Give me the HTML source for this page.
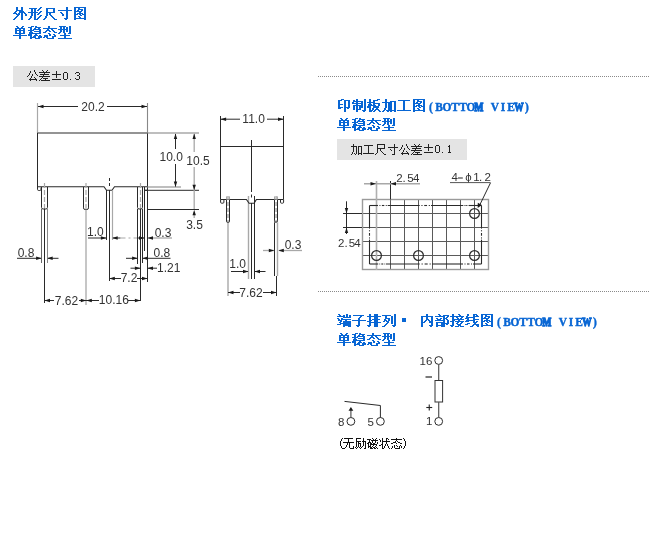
<!DOCTYPE html>
<html><head><meta charset="utf-8"><style>
html,body{margin:0;padding:0;background:#fff;}
body{width:669px;height:550px;overflow:hidden;position:relative;}
svg{position:absolute;left:0;top:0;}
</style></head><body>
<svg width="669" height="550" viewBox="0 0 669 550" style="will-change:transform">
<path d="M16 7h2v1h-2zM21 7h2v1h-2zM16 8h2v1h-2zM21 8h2v1h-2zM16 9h2v1h-2zM21 9h2v1h-2zM16 10h7v1h-7zM15 11h2v1h-2zM19 11h5v1h-5zM14 12h2v1h-2zM19 12h6v1h-6zM13 13h4v1h-4zM18 13h2v1h-2zM21 13h2v1h-2zM24 13h2v1h-2zM16 14h4v1h-4zM21 14h2v1h-2zM25 14h2v1h-2zM17 15h2v1h-2zM21 15h2v1h-2zM25 15h2v1h-2zM16 16h2v1h-2zM21 16h2v1h-2zM15 17h2v1h-2zM21 17h2v1h-2zM14 18h2v1h-2zM21 18h2v1h-2zM13 19h2v1h-2zM21 19h2v1h-2zM40 7h2v1h-2zM29 8h8v1h-8zM39 8h2v1h-2zM31 9h2v1h-2zM34 9h2v1h-2zM38 9h2v1h-2zM31 10h2v1h-2zM34 10h2v1h-2zM37 10h2v1h-2zM31 11h2v1h-2zM34 11h2v1h-2zM40 11h2v1h-2zM28 12h10v1h-10zM39 12h2v1h-2zM31 13h2v1h-2zM34 13h2v1h-2zM38 13h2v1h-2zM31 14h2v1h-2zM34 14h2v1h-2zM37 14h2v1h-2zM31 15h2v1h-2zM34 15h2v1h-2zM40 15h2v1h-2zM30 16h2v1h-2zM34 16h2v1h-2zM39 16h2v1h-2zM30 17h2v1h-2zM34 17h2v1h-2zM38 17h2v1h-2zM29 18h2v1h-2zM34 18h2v1h-2zM37 18h2v1h-2zM28 19h2v1h-2zM34 19h4v1h-4zM46 8h9v1h-9zM46 9h2v1h-2zM53 9h2v1h-2zM46 10h2v1h-2zM53 10h2v1h-2zM46 11h2v1h-2zM53 11h2v1h-2zM46 12h9v1h-9zM46 13h2v1h-2zM49 13h2v1h-2zM46 14h2v1h-2zM49 14h2v1h-2zM46 15h2v1h-2zM50 15h2v1h-2zM45 16h2v1h-2zM51 16h2v1h-2zM45 17h2v1h-2zM52 17h2v1h-2zM44 18h2v1h-2zM53 18h2v1h-2zM43 19h2v1h-2zM54 19h3v1h-3zM66 7h2v1h-2zM66 8h2v1h-2zM66 9h2v1h-2zM58 10h14v1h-14zM66 11h2v1h-2zM60 12h2v1h-2zM66 12h2v1h-2zM61 13h2v1h-2zM66 13h2v1h-2zM62 14h2v1h-2zM66 14h2v1h-2zM62 15h2v1h-2zM66 15h2v1h-2zM66 16h2v1h-2zM66 17h2v1h-2zM64 18h4v1h-4zM65 19h2v1h-2zM74 7h12v1h-12zM74 8h2v1h-2zM78 8h2v1h-2zM84 8h2v1h-2zM74 9h2v1h-2zM78 9h5v1h-5zM84 9h2v1h-2zM74 10h2v1h-2zM77 10h2v1h-2zM81 10h2v1h-2zM84 10h2v1h-2zM74 11h8v1h-8zM84 11h2v1h-2zM74 12h2v1h-2zM79 12h2v1h-2zM84 12h2v1h-2zM74 13h2v1h-2zM77 13h6v1h-6zM84 13h2v1h-2zM74 14h4v1h-4zM79 14h2v1h-2zM82 14h4v1h-4zM74 15h2v1h-2zM80 15h2v1h-2zM84 15h2v1h-2zM74 16h2v1h-2zM78 16h2v1h-2zM84 16h2v1h-2zM74 17h2v1h-2zM79 17h2v1h-2zM84 17h2v1h-2zM74 18h12v1h-12zM74 19h2v1h-2zM84 19h2v1h-2z" fill="#0866d4"/>
<path d="M16 26h2v1h-2zM22 26h2v1h-2zM17 27h2v1h-2zM21 27h2v1h-2zM15 28h10v1h-10zM15 29h2v1h-2zM19 29h2v1h-2zM23 29h2v1h-2zM15 30h10v1h-10zM15 31h2v1h-2zM19 31h2v1h-2zM23 31h2v1h-2zM15 32h2v1h-2zM19 32h2v1h-2zM23 32h2v1h-2zM15 33h10v1h-10zM19 34h2v1h-2zM13 35h14v1h-14zM19 36h2v1h-2zM19 37h2v1h-2zM19 38h2v1h-2zM31 26h3v1h-3zM35 26h2v1h-2zM28 27h4v1h-4zM35 27h6v1h-6zM30 28h2v1h-2zM34 28h2v1h-2zM38 28h2v1h-2zM30 29h2v1h-2zM33 29h8v1h-8zM28 30h6v1h-6zM39 30h2v1h-2zM30 31h2v1h-2zM34 31h7v1h-7zM29 32h4v1h-4zM39 32h2v1h-2zM29 33h12v1h-12zM28 34h4v1h-4zM35 34h2v1h-2zM28 35h4v1h-4zM34 35h4v1h-4zM39 35h2v1h-2zM30 36h2v1h-2zM33 36h3v1h-3zM38 36h4v1h-4zM30 37h6v1h-6zM38 37h4v1h-4zM30 38h2v1h-2zM35 38h5v1h-5zM48 26h2v1h-2zM48 27h2v1h-2zM43 28h14v1h-14zM47 29h2v1h-2zM51 29h2v1h-2zM46 30h4v1h-4zM52 30h2v1h-2zM45 31h2v1h-2zM49 31h2v1h-2zM53 31h2v1h-2zM43 32h3v1h-3zM54 32h3v1h-3zM48 33h2v1h-2zM49 34h2v1h-2zM53 34h2v1h-2zM44 35h4v1h-4zM49 35h2v1h-2zM54 35h2v1h-2zM44 36h4v1h-4zM52 36h4v1h-4zM43 37h2v1h-2zM46 37h2v1h-2zM52 37h2v1h-2zM47 38h7v1h-7zM59 26h7v1h-7zM69 26h2v1h-2zM60 27h2v1h-2zM63 27h2v1h-2zM66 27h2v1h-2zM69 27h2v1h-2zM60 28h2v1h-2zM63 28h2v1h-2zM66 28h2v1h-2zM69 28h2v1h-2zM58 29h10v1h-10zM69 29h2v1h-2zM60 30h2v1h-2zM63 30h2v1h-2zM66 30h2v1h-2zM69 30h2v1h-2zM60 31h2v1h-2zM63 31h2v1h-2zM66 31h2v1h-2zM69 31h2v1h-2zM59 32h2v1h-2zM63 32h2v1h-2zM69 32h2v1h-2zM58 33h2v1h-2zM64 33h2v1h-2zM68 33h3v1h-3zM64 34h2v1h-2zM60 35h10v1h-10zM64 36h2v1h-2zM64 37h2v1h-2zM58 38h14v1h-14z" fill="#0866d4"/>
<rect x="13" y="66" width="82" height="21" fill="#e4e4e4"/>
<path d="M34 70h1v1h-1zM30 71h1v1h-1zM34 71h1v1h-1zM30 72h1v1h-1zM35 72h1v1h-1zM29 73h1v1h-1zM35 73h1v1h-1zM29 74h1v1h-1zM32 74h1v1h-1zM36 74h1v1h-1zM28 75h1v1h-1zM32 75h1v1h-1zM37 75h1v1h-1zM27 76h1v1h-1zM31 76h1v1h-1zM31 77h1v1h-1zM34 77h1v1h-1zM30 78h1v1h-1zM35 78h1v1h-1zM29 79h8v1h-8zM30 80h1v1h-1zM36 80h1v1h-1zM42 70h1v1h-1zM47 70h1v1h-1zM43 71h1v1h-1zM46 71h1v1h-1zM39 72h11v1h-11zM44 73h1v1h-1zM40 74h9v1h-9zM43 75h1v1h-1zM39 76h11v1h-11zM42 77h1v1h-1zM41 78h1v1h-1zM43 78h5v1h-5zM40 79h1v1h-1zM45 79h1v1h-1zM39 80h1v1h-1zM41 80h9v1h-9z" fill="#222"/>
<path d="M56 71h1v1h-1zM56 72h1v1h-1zM56 73h1v1h-1zM52 74h9v1h-9zM56 75h1v1h-1zM56 76h1v1h-1zM56 77h1v1h-1zM52 79h9v1h-9zM64 72h3v1h-3zM63 73h1v1h-1zM67 73h1v1h-1zM63 74h1v1h-1zM67 74h1v1h-1zM63 75h1v1h-1zM67 75h1v1h-1zM63 76h1v1h-1zM67 76h1v1h-1zM63 77h1v1h-1zM67 77h1v1h-1zM63 78h1v1h-1zM67 78h1v1h-1zM64 79h3v1h-3zM70 79h1v1h-1zM76 72h3v1h-3zM75 73h1v1h-1zM79 73h1v1h-1zM79 74h1v1h-1zM77 75h2v1h-2zM79 76h1v1h-1zM79 77h1v1h-1zM75 78h1v1h-1zM79 78h1v1h-1zM76 79h3v1h-3z" fill="#222"/>
<line x1="318" y1="76.5" x2="650" y2="76.5" stroke="#8a8a8a" stroke-width="1" stroke-dasharray="1 1"/>
<line x1="318" y1="291.5" x2="650" y2="291.5" stroke="#8a8a8a" stroke-width="1" stroke-dasharray="1 1"/>
<path d="M341 99h3v1h-3zM338 100h4v1h-4zM344 100h6v1h-6zM338 101h2v1h-2zM344 101h2v1h-2zM348 101h2v1h-2zM338 102h2v1h-2zM344 102h2v1h-2zM348 102h2v1h-2zM338 103h2v1h-2zM344 103h2v1h-2zM348 103h2v1h-2zM338 104h5v1h-5zM344 104h2v1h-2zM348 104h2v1h-2zM338 105h2v1h-2zM344 105h2v1h-2zM348 105h2v1h-2zM338 106h2v1h-2zM344 106h2v1h-2zM348 106h2v1h-2zM338 107h5v1h-5zM344 107h6v1h-6zM338 108h3v1h-3zM344 108h2v1h-2zM347 108h2v1h-2zM344 109h2v1h-2zM344 110h2v1h-2zM344 111h2v1h-2zM356 99h2v1h-2zM364 99h2v1h-2zM353 100h2v1h-2zM356 100h2v1h-2zM364 100h2v1h-2zM353 101h10v1h-10zM364 101h2v1h-2zM352 102h2v1h-2zM356 102h2v1h-2zM361 102h2v1h-2zM364 102h2v1h-2zM352 103h11v1h-11zM364 103h2v1h-2zM356 104h2v1h-2zM361 104h2v1h-2zM364 104h2v1h-2zM353 105h10v1h-10zM364 105h2v1h-2zM353 106h2v1h-2zM356 106h2v1h-2zM359 106h4v1h-4zM364 106h2v1h-2zM353 107h2v1h-2zM356 107h2v1h-2zM359 107h4v1h-4zM364 107h2v1h-2zM353 108h2v1h-2zM356 108h2v1h-2zM359 108h2v1h-2zM364 108h2v1h-2zM353 109h2v1h-2zM356 109h5v1h-5zM364 109h2v1h-2zM356 110h2v1h-2zM362 110h4v1h-4zM356 111h2v1h-2zM363 111h2v1h-2zM369 99h2v1h-2zM377 99h3v1h-3zM369 100h2v1h-2zM373 100h5v1h-5zM369 101h2v1h-2zM373 101h2v1h-2zM367 102h8v1h-8zM369 103h2v1h-2zM373 103h7v1h-7zM368 104h4v1h-4zM373 104h2v1h-2zM378 104h2v1h-2zM368 105h8v1h-8zM378 105h2v1h-2zM367 106h4v1h-4zM373 106h6v1h-6zM367 107h4v1h-4zM373 107h6v1h-6zM369 108h2v1h-2zM372 108h2v1h-2zM376 108h2v1h-2zM369 109h2v1h-2zM372 109h2v1h-2zM375 109h4v1h-4zM369 110h4v1h-4zM374 110h2v1h-2zM378 110h2v1h-2zM369 111h3v1h-3zM373 111h2v1h-2zM379 111h2v1h-2zM385 99h2v1h-2zM385 100h2v1h-2zM385 101h2v1h-2zM390 101h6v1h-6zM382 102h10v1h-10zM394 102h2v1h-2zM385 103h2v1h-2zM388 103h4v1h-4zM394 103h2v1h-2zM385 104h2v1h-2zM388 104h4v1h-4zM394 104h2v1h-2zM385 105h2v1h-2zM388 105h4v1h-4zM394 105h2v1h-2zM385 106h2v1h-2zM388 106h4v1h-4zM394 106h2v1h-2zM385 107h2v1h-2zM388 107h4v1h-4zM394 107h2v1h-2zM384 108h2v1h-2zM388 108h4v1h-4zM394 108h2v1h-2zM384 109h2v1h-2zM388 109h4v1h-4zM394 109h2v1h-2zM383 110h2v1h-2zM386 110h10v1h-10zM382 111h2v1h-2zM387 111h2v1h-2zM390 111h2v1h-2zM394 111h2v1h-2zM398 100h12v1h-12zM403 101h2v1h-2zM403 102h2v1h-2zM403 103h2v1h-2zM403 104h2v1h-2zM403 105h2v1h-2zM403 106h2v1h-2zM403 107h2v1h-2zM403 108h2v1h-2zM403 109h2v1h-2zM397 110h14v1h-14zM413 99h12v1h-12zM413 100h2v1h-2zM417 100h2v1h-2zM423 100h2v1h-2zM413 101h2v1h-2zM417 101h5v1h-5zM423 101h2v1h-2zM413 102h2v1h-2zM416 102h2v1h-2zM420 102h2v1h-2zM423 102h2v1h-2zM413 103h8v1h-8zM423 103h2v1h-2zM413 104h2v1h-2zM418 104h2v1h-2zM423 104h2v1h-2zM413 105h2v1h-2zM416 105h6v1h-6zM423 105h2v1h-2zM413 106h4v1h-4zM418 106h2v1h-2zM421 106h4v1h-4zM413 107h2v1h-2zM419 107h2v1h-2zM423 107h2v1h-2zM413 108h2v1h-2zM417 108h2v1h-2zM423 108h2v1h-2zM413 109h2v1h-2zM418 109h2v1h-2zM423 109h2v1h-2zM413 110h12v1h-12zM413 111h2v1h-2zM423 111h2v1h-2z" fill="#0866d4"/>
<text transform="translate(431,111) scale(0.88,1)" font-family="Liberation Serif" font-weight="bold" font-size="13" fill="#0866d4" stroke="#0866d4" stroke-width="0.45" text-anchor="middle">(</text>
<text transform="translate(439,111) scale(0.88,1)" font-family="Liberation Serif" font-weight="bold" font-size="13" fill="#0866d4" stroke="#0866d4" stroke-width="0.45" text-anchor="middle">B</text>
<text transform="translate(447,111) scale(0.88,1)" font-family="Liberation Serif" font-weight="bold" font-size="13" fill="#0866d4" stroke="#0866d4" stroke-width="0.45" text-anchor="middle">O</text>
<text transform="translate(455,111) scale(0.88,1)" font-family="Liberation Serif" font-weight="bold" font-size="13" fill="#0866d4" stroke="#0866d4" stroke-width="0.45" text-anchor="middle">T</text>
<text transform="translate(463,111) scale(0.88,1)" font-family="Liberation Serif" font-weight="bold" font-size="13" fill="#0866d4" stroke="#0866d4" stroke-width="0.45" text-anchor="middle">T</text>
<text transform="translate(471,111) scale(0.88,1)" font-family="Liberation Serif" font-weight="bold" font-size="13" fill="#0866d4" stroke="#0866d4" stroke-width="0.45" text-anchor="middle">O</text>
<text transform="translate(479,111) scale(0.72,1)" font-family="Liberation Serif" font-weight="bold" font-size="13" fill="#0866d4" stroke="#0866d4" stroke-width="1.3" text-anchor="middle">M</text>
<text transform="translate(495,111) scale(0.88,1)" font-family="Liberation Serif" font-weight="bold" font-size="13" fill="#0866d4" stroke="#0866d4" stroke-width="0.45" text-anchor="middle">V</text>
<text transform="translate(503,111) scale(0.88,1)" font-family="Liberation Serif" font-weight="bold" font-size="13" fill="#0866d4" stroke="#0866d4" stroke-width="0.45" text-anchor="middle">I</text>
<text transform="translate(511,111) scale(0.88,1)" font-family="Liberation Serif" font-weight="bold" font-size="13" fill="#0866d4" stroke="#0866d4" stroke-width="0.45" text-anchor="middle">E</text>
<text transform="translate(519,111) scale(0.72,1)" font-family="Liberation Serif" font-weight="bold" font-size="13" fill="#0866d4" stroke="#0866d4" stroke-width="1.3" text-anchor="middle">W</text>
<text transform="translate(527,111) scale(0.88,1)" font-family="Liberation Serif" font-weight="bold" font-size="13" fill="#0866d4" stroke="#0866d4" stroke-width="0.45" text-anchor="middle">)</text>
<path d="M340 118h2v1h-2zM346 118h2v1h-2zM341 119h2v1h-2zM345 119h2v1h-2zM339 120h10v1h-10zM339 121h2v1h-2zM343 121h2v1h-2zM347 121h2v1h-2zM339 122h10v1h-10zM339 123h2v1h-2zM343 123h2v1h-2zM347 123h2v1h-2zM339 124h2v1h-2zM343 124h2v1h-2zM347 124h2v1h-2zM339 125h10v1h-10zM343 126h2v1h-2zM337 127h14v1h-14zM343 128h2v1h-2zM343 129h2v1h-2zM343 130h2v1h-2zM355 118h3v1h-3zM359 118h2v1h-2zM352 119h4v1h-4zM359 119h6v1h-6zM354 120h2v1h-2zM358 120h2v1h-2zM362 120h2v1h-2zM354 121h2v1h-2zM357 121h8v1h-8zM352 122h6v1h-6zM363 122h2v1h-2zM354 123h2v1h-2zM358 123h7v1h-7zM353 124h4v1h-4zM363 124h2v1h-2zM353 125h12v1h-12zM352 126h4v1h-4zM359 126h2v1h-2zM352 127h4v1h-4zM358 127h4v1h-4zM363 127h2v1h-2zM354 128h2v1h-2zM357 128h3v1h-3zM362 128h4v1h-4zM354 129h6v1h-6zM362 129h4v1h-4zM354 130h2v1h-2zM359 130h5v1h-5zM372 118h2v1h-2zM372 119h2v1h-2zM367 120h14v1h-14zM371 121h2v1h-2zM375 121h2v1h-2zM370 122h4v1h-4zM376 122h2v1h-2zM369 123h2v1h-2zM373 123h2v1h-2zM377 123h2v1h-2zM367 124h3v1h-3zM378 124h3v1h-3zM372 125h2v1h-2zM373 126h2v1h-2zM377 126h2v1h-2zM368 127h4v1h-4zM373 127h2v1h-2zM378 127h2v1h-2zM368 128h4v1h-4zM376 128h4v1h-4zM367 129h2v1h-2zM370 129h2v1h-2zM376 129h2v1h-2zM371 130h7v1h-7zM383 118h7v1h-7zM393 118h2v1h-2zM384 119h2v1h-2zM387 119h2v1h-2zM390 119h2v1h-2zM393 119h2v1h-2zM384 120h2v1h-2zM387 120h2v1h-2zM390 120h2v1h-2zM393 120h2v1h-2zM382 121h10v1h-10zM393 121h2v1h-2zM384 122h2v1h-2zM387 122h2v1h-2zM390 122h2v1h-2zM393 122h2v1h-2zM384 123h2v1h-2zM387 123h2v1h-2zM390 123h2v1h-2zM393 123h2v1h-2zM383 124h2v1h-2zM387 124h2v1h-2zM393 124h2v1h-2zM382 125h2v1h-2zM388 125h2v1h-2zM392 125h3v1h-3zM388 126h2v1h-2zM384 127h10v1h-10zM388 128h2v1h-2zM388 129h2v1h-2zM382 130h14v1h-14z" fill="#0866d4"/>
<rect x="337" y="139" width="130" height="21" fill="#e4e4e4"/>
<path d="M353 144h1v1h-1zM353 145h1v1h-1zM351 146h6v1h-6zM358 146h4v1h-4zM353 147h1v1h-1zM356 147h1v1h-1zM358 147h1v1h-1zM361 147h1v1h-1zM353 148h1v1h-1zM356 148h1v1h-1zM358 148h1v1h-1zM361 148h1v1h-1zM353 149h1v1h-1zM356 149h1v1h-1zM358 149h1v1h-1zM361 149h1v1h-1zM353 150h1v1h-1zM356 150h1v1h-1zM358 150h1v1h-1zM361 150h1v1h-1zM353 151h1v1h-1zM356 151h1v1h-1zM358 151h1v1h-1zM361 151h1v1h-1zM352 152h1v1h-1zM356 152h1v1h-1zM358 152h1v1h-1zM361 152h1v1h-1zM352 153h1v1h-1zM354 153h1v1h-1zM356 153h1v1h-1zM358 153h4v1h-4zM351 154h1v1h-1zM355 154h1v1h-1zM358 154h1v1h-1zM361 154h1v1h-1zM364 145h9v1h-9zM368 146h1v1h-1zM368 147h1v1h-1zM368 148h1v1h-1zM368 149h1v1h-1zM368 150h1v1h-1zM368 151h1v1h-1zM368 152h1v1h-1zM363 153h11v1h-11zM377 144h8v1h-8zM377 145h1v1h-1zM384 145h1v1h-1zM377 146h1v1h-1zM384 146h1v1h-1zM377 147h1v1h-1zM384 147h1v1h-1zM377 148h8v1h-8zM377 149h1v1h-1zM380 149h1v1h-1zM377 150h1v1h-1zM380 150h1v1h-1zM377 151h1v1h-1zM381 151h1v1h-1zM377 152h1v1h-1zM382 152h1v1h-1zM376 153h1v1h-1zM383 153h1v1h-1zM375 154h1v1h-1zM384 154h2v1h-2zM394 144h1v1h-1zM394 145h1v1h-1zM394 146h1v1h-1zM388 147h10v1h-10zM394 148h1v1h-1zM390 149h1v1h-1zM394 149h1v1h-1zM391 150h1v1h-1zM394 150h1v1h-1zM394 151h1v1h-1zM394 152h1v1h-1zM394 153h1v1h-1zM392 154h3v1h-3zM406 144h1v1h-1zM402 145h1v1h-1zM406 145h1v1h-1zM402 146h1v1h-1zM407 146h1v1h-1zM401 147h1v1h-1zM407 147h1v1h-1zM401 148h1v1h-1zM404 148h1v1h-1zM408 148h1v1h-1zM400 149h1v1h-1zM404 149h1v1h-1zM409 149h1v1h-1zM399 150h1v1h-1zM403 150h1v1h-1zM403 151h1v1h-1zM406 151h1v1h-1zM402 152h1v1h-1zM407 152h1v1h-1zM401 153h8v1h-8zM402 154h1v1h-1zM408 154h1v1h-1zM414 144h1v1h-1zM419 144h1v1h-1zM415 145h1v1h-1zM418 145h1v1h-1zM411 146h11v1h-11zM416 147h1v1h-1zM412 148h9v1h-9zM415 149h1v1h-1zM411 150h11v1h-11zM414 151h1v1h-1zM413 152h1v1h-1zM415 152h5v1h-5zM412 153h1v1h-1zM417 153h1v1h-1zM411 154h1v1h-1zM413 154h9v1h-9z" fill="#222"/>
<path d="M428 144h1v1h-1zM428 145h1v1h-1zM428 146h1v1h-1zM424 147h9v1h-9zM428 148h1v1h-1zM428 149h1v1h-1zM428 150h1v1h-1zM424 152h9v1h-9zM436 145h3v1h-3zM435 146h1v1h-1zM439 146h1v1h-1zM435 147h1v1h-1zM439 147h1v1h-1zM435 148h1v1h-1zM439 148h1v1h-1zM435 149h1v1h-1zM439 149h1v1h-1zM435 150h1v1h-1zM439 150h1v1h-1zM435 151h1v1h-1zM439 151h1v1h-1zM436 152h3v1h-3zM442 152h1v1h-1zM449 145h1v1h-1zM448 146h2v1h-2zM449 147h1v1h-1zM449 148h1v1h-1zM449 149h1v1h-1zM449 150h1v1h-1zM449 151h1v1h-1zM448 152h3v1h-3z" fill="#222"/>
<path d="M338 314h2v1h-2zM346 314h2v1h-2zM339 315h2v1h-2zM343 315h2v1h-2zM346 315h2v1h-2zM349 315h2v1h-2zM337 316h8v1h-8zM346 316h2v1h-2zM349 316h2v1h-2zM343 317h8v1h-8zM337 318h2v1h-2zM341 318h2v1h-2zM338 319h2v1h-2zM341 319h10v1h-10zM338 320h4v1h-4zM345 320h2v1h-2zM340 321h2v1h-2zM343 321h8v1h-8zM339 322h2v1h-2zM343 322h8v1h-8zM340 323h11v1h-11zM337 324h4v1h-4zM343 324h8v1h-8zM343 325h8v1h-8zM343 326h2v1h-2zM348 326h3v1h-3zM353 315h11v1h-11zM360 316h2v1h-2zM359 317h2v1h-2zM358 318h2v1h-2zM358 319h2v1h-2zM352 320h14v1h-14zM358 321h2v1h-2zM358 322h2v1h-2zM358 323h2v1h-2zM358 324h2v1h-2zM356 325h4v1h-4zM357 326h2v1h-2zM369 314h2v1h-2zM374 314h4v1h-4zM369 315h2v1h-2zM374 315h4v1h-4zM367 316h14v1h-14zM369 317h2v1h-2zM374 317h4v1h-4zM369 318h2v1h-2zM374 318h4v1h-4zM369 319h2v1h-2zM372 319h8v1h-8zM369 320h3v1h-3zM374 320h4v1h-4zM367 321h4v1h-4zM374 321h4v1h-4zM369 322h12v1h-12zM369 323h2v1h-2zM374 323h4v1h-4zM369 324h2v1h-2zM374 324h4v1h-4zM367 325h4v1h-4zM374 325h4v1h-4zM368 326h2v1h-2zM374 326h4v1h-4zM394 314h2v1h-2zM382 315h9v1h-9zM394 315h2v1h-2zM385 316h2v1h-2zM391 316h2v1h-2zM394 316h2v1h-2zM385 317h2v1h-2zM391 317h2v1h-2zM394 317h2v1h-2zM385 318h5v1h-5zM391 318h2v1h-2zM394 318h2v1h-2zM384 319h2v1h-2zM388 319h2v1h-2zM391 319h2v1h-2zM394 319h2v1h-2zM384 320h3v1h-3zM388 320h2v1h-2zM391 320h2v1h-2zM394 320h2v1h-2zM383 321h2v1h-2zM386 321h3v1h-3zM391 321h2v1h-2zM394 321h2v1h-2zM387 322h2v1h-2zM391 322h2v1h-2zM394 322h2v1h-2zM386 323h2v1h-2zM391 323h2v1h-2zM394 323h2v1h-2zM385 324h2v1h-2zM394 324h2v1h-2zM384 325h2v1h-2zM392 325h4v1h-4zM382 326h3v1h-3zM393 326h2v1h-2zM402 318h4v1h-4zM402 319h4v1h-4zM402 320h4v1h-4zM402 321h4v1h-4z" fill="#0866d4"/>
<path d="M426 314h2v1h-2zM426 315h2v1h-2zM421 316h12v1h-12zM421 317h2v1h-2zM426 317h2v1h-2zM431 317h2v1h-2zM421 318h2v1h-2zM426 318h2v1h-2zM431 318h2v1h-2zM421 319h2v1h-2zM426 319h3v1h-3zM431 319h2v1h-2zM421 320h2v1h-2zM425 320h2v1h-2zM428 320h2v1h-2zM431 320h2v1h-2zM421 321h2v1h-2zM424 321h2v1h-2zM429 321h4v1h-4zM421 322h4v1h-4zM429 322h4v1h-4zM421 323h2v1h-2zM431 323h2v1h-2zM421 324h2v1h-2zM431 324h2v1h-2zM421 325h2v1h-2zM429 325h4v1h-4zM421 326h2v1h-2zM430 326h2v1h-2zM438 314h2v1h-2zM439 315h2v1h-2zM443 315h6v1h-6zM435 316h10v1h-10zM447 316h2v1h-2zM443 317h2v1h-2zM446 317h2v1h-2zM436 318h2v1h-2zM440 318h2v1h-2zM443 318h4v1h-4zM437 319h4v1h-4zM443 319h2v1h-2zM446 319h2v1h-2zM435 320h10v1h-10zM447 320h2v1h-2zM443 321h2v1h-2zM447 321h2v1h-2zM436 322h9v1h-9zM447 322h2v1h-2zM436 323h2v1h-2zM441 323h8v1h-8zM436 324h2v1h-2zM441 324h4v1h-4zM446 324h2v1h-2zM436 325h9v1h-9zM436 326h2v1h-2zM441 326h4v1h-4zM452 314h2v1h-2zM458 314h2v1h-2zM452 315h2v1h-2zM459 315h2v1h-2zM450 316h14v1h-14zM452 317h2v1h-2zM456 317h2v1h-2zM461 317h2v1h-2zM452 318h2v1h-2zM457 318h2v1h-2zM460 318h2v1h-2zM452 319h12v1h-12zM452 320h3v1h-3zM458 320h2v1h-2zM450 321h4v1h-4zM455 321h9v1h-9zM452 322h2v1h-2zM457 322h2v1h-2zM461 322h2v1h-2zM452 323h2v1h-2zM456 323h2v1h-2zM460 323h2v1h-2zM452 324h2v1h-2zM457 324h4v1h-4zM450 325h4v1h-4zM458 325h3v1h-3zM451 326h2v1h-2zM455 326h4v1h-4zM460 326h4v1h-4zM467 314h2v1h-2zM473 314h4v1h-4zM467 315h2v1h-2zM473 315h2v1h-2zM476 315h2v1h-2zM466 316h2v1h-2zM473 316h6v1h-6zM466 317h9v1h-9zM465 318h4v1h-4zM473 318h2v1h-2zM467 319h2v1h-2zM473 319h6v1h-6zM466 320h9v1h-9zM465 321h4v1h-4zM473 321h2v1h-2zM476 321h2v1h-2zM473 322h4v1h-4zM467 323h3v1h-3zM474 323h2v1h-2zM465 324h3v1h-3zM473 324h6v1h-6zM472 325h2v1h-2zM476 325h3v1h-3zM470 326h3v1h-3zM477 326h2v1h-2zM481 314h12v1h-12zM481 315h2v1h-2zM485 315h2v1h-2zM491 315h2v1h-2zM481 316h2v1h-2zM485 316h5v1h-5zM491 316h2v1h-2zM481 317h2v1h-2zM484 317h2v1h-2zM488 317h2v1h-2zM491 317h2v1h-2zM481 318h8v1h-8zM491 318h2v1h-2zM481 319h2v1h-2zM486 319h2v1h-2zM491 319h2v1h-2zM481 320h2v1h-2zM484 320h6v1h-6zM491 320h2v1h-2zM481 321h4v1h-4zM486 321h2v1h-2zM489 321h4v1h-4zM481 322h2v1h-2zM487 322h2v1h-2zM491 322h2v1h-2zM481 323h2v1h-2zM485 323h2v1h-2zM491 323h2v1h-2zM481 324h2v1h-2zM486 324h2v1h-2zM491 324h2v1h-2zM481 325h12v1h-12zM481 326h2v1h-2zM491 326h2v1h-2z" fill="#0866d4"/>
<text transform="translate(499,326) scale(0.88,1)" font-family="Liberation Serif" font-weight="bold" font-size="13" fill="#0866d4" stroke="#0866d4" stroke-width="0.45" text-anchor="middle">(</text>
<text transform="translate(507,326) scale(0.88,1)" font-family="Liberation Serif" font-weight="bold" font-size="13" fill="#0866d4" stroke="#0866d4" stroke-width="0.45" text-anchor="middle">B</text>
<text transform="translate(515,326) scale(0.88,1)" font-family="Liberation Serif" font-weight="bold" font-size="13" fill="#0866d4" stroke="#0866d4" stroke-width="0.45" text-anchor="middle">O</text>
<text transform="translate(523,326) scale(0.88,1)" font-family="Liberation Serif" font-weight="bold" font-size="13" fill="#0866d4" stroke="#0866d4" stroke-width="0.45" text-anchor="middle">T</text>
<text transform="translate(531,326) scale(0.88,1)" font-family="Liberation Serif" font-weight="bold" font-size="13" fill="#0866d4" stroke="#0866d4" stroke-width="0.45" text-anchor="middle">T</text>
<text transform="translate(539,326) scale(0.88,1)" font-family="Liberation Serif" font-weight="bold" font-size="13" fill="#0866d4" stroke="#0866d4" stroke-width="0.45" text-anchor="middle">O</text>
<text transform="translate(547,326) scale(0.72,1)" font-family="Liberation Serif" font-weight="bold" font-size="13" fill="#0866d4" stroke="#0866d4" stroke-width="1.3" text-anchor="middle">M</text>
<text transform="translate(563,326) scale(0.88,1)" font-family="Liberation Serif" font-weight="bold" font-size="13" fill="#0866d4" stroke="#0866d4" stroke-width="0.45" text-anchor="middle">V</text>
<text transform="translate(571,326) scale(0.88,1)" font-family="Liberation Serif" font-weight="bold" font-size="13" fill="#0866d4" stroke="#0866d4" stroke-width="0.45" text-anchor="middle">I</text>
<text transform="translate(579,326) scale(0.88,1)" font-family="Liberation Serif" font-weight="bold" font-size="13" fill="#0866d4" stroke="#0866d4" stroke-width="0.45" text-anchor="middle">E</text>
<text transform="translate(587,326) scale(0.72,1)" font-family="Liberation Serif" font-weight="bold" font-size="13" fill="#0866d4" stroke="#0866d4" stroke-width="1.3" text-anchor="middle">W</text>
<text transform="translate(595,326) scale(0.88,1)" font-family="Liberation Serif" font-weight="bold" font-size="13" fill="#0866d4" stroke="#0866d4" stroke-width="0.45" text-anchor="middle">)</text>
<path d="M340 333h2v1h-2zM346 333h2v1h-2zM341 334h2v1h-2zM345 334h2v1h-2zM339 335h10v1h-10zM339 336h2v1h-2zM343 336h2v1h-2zM347 336h2v1h-2zM339 337h10v1h-10zM339 338h2v1h-2zM343 338h2v1h-2zM347 338h2v1h-2zM339 339h2v1h-2zM343 339h2v1h-2zM347 339h2v1h-2zM339 340h10v1h-10zM343 341h2v1h-2zM337 342h14v1h-14zM343 343h2v1h-2zM343 344h2v1h-2zM343 345h2v1h-2zM355 333h3v1h-3zM359 333h2v1h-2zM352 334h4v1h-4zM359 334h6v1h-6zM354 335h2v1h-2zM358 335h2v1h-2zM362 335h2v1h-2zM354 336h2v1h-2zM357 336h8v1h-8zM352 337h6v1h-6zM363 337h2v1h-2zM354 338h2v1h-2zM358 338h7v1h-7zM353 339h4v1h-4zM363 339h2v1h-2zM353 340h12v1h-12zM352 341h4v1h-4zM359 341h2v1h-2zM352 342h4v1h-4zM358 342h4v1h-4zM363 342h2v1h-2zM354 343h2v1h-2zM357 343h3v1h-3zM362 343h4v1h-4zM354 344h6v1h-6zM362 344h4v1h-4zM354 345h2v1h-2zM359 345h5v1h-5zM372 333h2v1h-2zM372 334h2v1h-2zM367 335h14v1h-14zM371 336h2v1h-2zM375 336h2v1h-2zM370 337h4v1h-4zM376 337h2v1h-2zM369 338h2v1h-2zM373 338h2v1h-2zM377 338h2v1h-2zM367 339h3v1h-3zM378 339h3v1h-3zM372 340h2v1h-2zM373 341h2v1h-2zM377 341h2v1h-2zM368 342h4v1h-4zM373 342h2v1h-2zM378 342h2v1h-2zM368 343h4v1h-4zM376 343h4v1h-4zM367 344h2v1h-2zM370 344h2v1h-2zM376 344h2v1h-2zM371 345h7v1h-7zM383 333h7v1h-7zM393 333h2v1h-2zM384 334h2v1h-2zM387 334h2v1h-2zM390 334h2v1h-2zM393 334h2v1h-2zM384 335h2v1h-2zM387 335h2v1h-2zM390 335h2v1h-2zM393 335h2v1h-2zM382 336h10v1h-10zM393 336h2v1h-2zM384 337h2v1h-2zM387 337h2v1h-2zM390 337h2v1h-2zM393 337h2v1h-2zM384 338h2v1h-2zM387 338h2v1h-2zM390 338h2v1h-2zM393 338h2v1h-2zM383 339h2v1h-2zM387 339h2v1h-2zM393 339h2v1h-2zM382 340h2v1h-2zM388 340h2v1h-2zM392 340h3v1h-3zM388 341h2v1h-2zM384 342h10v1h-10zM388 343h2v1h-2zM388 344h2v1h-2zM382 345h14v1h-14z" fill="#0866d4"/>
<line x1="37.5" y1="103" x2="37.5" y2="133" stroke="#a8a8a8" stroke-width="1.2" />
<line x1="147.5" y1="103" x2="147.5" y2="133" stroke="#888" stroke-width="1.1" />
<line x1="147.5" y1="133" x2="147.5" y2="282" stroke="#2a2a2a" stroke-width="1" />
<line x1="37.5" y1="133" x2="37.5" y2="187" stroke="#2a2a2a" stroke-width="1" />
<line x1="37.5" y1="133" x2="147.5" y2="133" stroke="#2a2a2a" stroke-width="1.1" />
<line x1="147.5" y1="133" x2="199" y2="133" stroke="#a8a8a8" stroke-width="1.6" />
<path d="M37.5,186.8 H104 L106.5,190.3 H112 L114.5,186.8 H147.5" stroke="#2a2a2a" stroke-width="1.1" fill="none" />
<path d="M37.5,187 V189.3 Q37.5,190.5 38.7,190.5 H39.8 Q41,190.5 41,189.3 V187.5" stroke="#2a2a2a" stroke-width="1" fill="none" />
<path d="M144.5,187 V190.3 H147.5" stroke="#2a2a2a" stroke-width="1" fill="none" />
<line x1="38" y1="106.5" x2="78" y2="106.5" stroke="#2a2a2a" stroke-width="1" />
<line x1="107" y1="106.5" x2="147" y2="106.5" stroke="#2a2a2a" stroke-width="1" />
<text x="93" y="111" font-family="Liberation Sans" font-size="12" fill="#333333" text-anchor="middle" >20.2</text>
<line x1="44.5" y1="183" x2="44.5" y2="209" stroke="#a8a8a8" stroke-width="1.2" stroke-dasharray="5 2"/>
<path d="M41.5,187 V207.4 Q41.5,209 43.1,209 H45.9 Q47.5,209 47.5,207.4 V187" stroke="#2a2a2a" stroke-width="1" fill="none" />
<line x1="41.5" y1="209" x2="41.5" y2="263" stroke="#666" stroke-width="1" />
<line x1="47.5" y1="209" x2="47.5" y2="263" stroke="#888" stroke-width="1" />
<line x1="44.5" y1="209" x2="44.5" y2="303" stroke="#2a2a2a" stroke-width="1" />
<line x1="86" y1="183" x2="86" y2="209" stroke="#a8a8a8" stroke-width="1.2" stroke-dasharray="5 2"/>
<path d="M83.5,187 V207.9 Q83.5,209.5 85.1,209.5 H86.9 Q88.5,209.5 88.5,207.9 V187" stroke="#2a2a2a" stroke-width="1" fill="none" />
<line x1="86" y1="209.5" x2="86" y2="305" stroke="#a8a8a8" stroke-width="1.3" />
<line x1="109.5" y1="178" x2="109.5" y2="187" stroke="#2a2a2a" stroke-width="1" stroke-dasharray="3 2"/>
<line x1="106.5" y1="190" x2="106.5" y2="240" stroke="#2a2a2a" stroke-width="1" />
<line x1="109.5" y1="190" x2="109.5" y2="281" stroke="#2a2a2a" stroke-width="1" />
<line x1="112.5" y1="190" x2="112.5" y2="240" stroke="#a8a8a8" stroke-width="1.2" />
<line x1="140.5" y1="183" x2="140.5" y2="209" stroke="#a8a8a8" stroke-width="1.2" stroke-dasharray="5 2"/>
<path d="M137.5,187 V207.4 Q137.5,209 139.1,209 H140.9 Q142.5,209 142.5,207.4 V187" stroke="#2a2a2a" stroke-width="1" fill="none" />
<line x1="137.5" y1="209" x2="137.5" y2="264" stroke="#2a2a2a" stroke-width="1" />
<line x1="140.5" y1="209" x2="140.5" y2="301" stroke="#2a2a2a" stroke-width="1" />
<line x1="142.5" y1="209" x2="142.5" y2="263" stroke="#2a2a2a" stroke-width="1" />
<line x1="144.5" y1="190" x2="144.5" y2="251" stroke="#2a2a2a" stroke-width="1" />
<line x1="147.5" y1="187" x2="181" y2="187" stroke="#a8a8a8" stroke-width="1.6" />
<line x1="144.5" y1="190.3" x2="199" y2="190.3" stroke="#2a2a2a" stroke-width="1" />
<line x1="147.5" y1="209.5" x2="199" y2="209.5" stroke="#2a2a2a" stroke-width="1" />
<line x1="175.5" y1="134" x2="175.5" y2="149" stroke="#2a2a2a" stroke-width="1" />
<line x1="175.5" y1="164" x2="175.5" y2="186.5" stroke="#2a2a2a" stroke-width="1" />
<text x="171.2" y="160.5" font-family="Liberation Sans" font-size="12" fill="#333333" text-anchor="middle" >10.0</text>
<line x1="194.2" y1="134" x2="194.2" y2="152" stroke="#a8a8a8" stroke-width="1.3" />
<line x1="194.2" y1="167" x2="194.2" y2="209" stroke="#a8a8a8" stroke-width="1.3" />
<line x1="194.2" y1="212" x2="194.2" y2="218" stroke="#a8a8a8" stroke-width="1.3" />
<text x="198" y="164.8" font-family="Liberation Sans" font-size="12" fill="#333333" text-anchor="middle" >10.5</text>
<text x="194.5" y="228.6" font-family="Liberation Sans" font-size="12" fill="#333333" text-anchor="middle" >3.5</text>
<line x1="17" y1="258.3" x2="41" y2="258.3" stroke="#2a2a2a" stroke-width="1" />
<line x1="48" y1="258.3" x2="58.5" y2="258.3" stroke="#2a2a2a" stroke-width="1" />
<text x="26" y="256.8" font-family="Liberation Sans" font-size="12" fill="#333333" text-anchor="middle" >0.8</text>
<line x1="88" y1="238" x2="106" y2="238" stroke="#2a2a2a" stroke-width="1" />
<line x1="113" y1="238" x2="120.5" y2="238" stroke="#2a2a2a" stroke-width="1" />
<line x1="120.5" y1="238" x2="137" y2="238" stroke="#a8a8a8" stroke-width="1.2" stroke-dasharray="5 3 2 3"/>
<line x1="137" y1="238" x2="144" y2="238" stroke="#2a2a2a" stroke-width="1" />
<line x1="148" y1="238" x2="172" y2="238" stroke="#a8a8a8" stroke-width="1.3" />
<text x="95.3" y="235.6" font-family="Liberation Sans" font-size="12" fill="#333333" text-anchor="middle" >1.0</text>
<text x="163" y="236.6" font-family="Liberation Sans" font-size="12" fill="#333333" text-anchor="middle" >0.3</text>
<line x1="126" y1="258.3" x2="137" y2="258.3" stroke="#2a2a2a" stroke-width="1" />
<line x1="143" y1="258.3" x2="170.5" y2="258.3" stroke="#2a2a2a" stroke-width="1" />
<text x="161.8" y="257.3" font-family="Liberation Sans" font-size="12" fill="#333333" text-anchor="middle" >0.8</text>
<line x1="130.5" y1="268.2" x2="140" y2="268.2" stroke="#2a2a2a" stroke-width="1" />
<line x1="148" y1="268.2" x2="157" y2="268.2" stroke="#2a2a2a" stroke-width="1" />
<text x="168.8" y="271.8" font-family="Liberation Sans" font-size="12" fill="#333333" text-anchor="middle" >1.21</text>
<line x1="110" y1="278.5" x2="121" y2="278.5" stroke="#2a2a2a" stroke-width="1" />
<line x1="137" y1="278.5" x2="147" y2="278.5" stroke="#2a2a2a" stroke-width="1" />
<text x="129" y="282.4" font-family="Liberation Sans" font-size="12" fill="#333333" text-anchor="middle" >7.2</text>
<line x1="45" y1="300.5" x2="54" y2="300.5" stroke="#2a2a2a" stroke-width="1" />
<line x1="79" y1="300.5" x2="99" y2="300.5" stroke="#2a2a2a" stroke-width="1" />
<line x1="128" y1="300.5" x2="140" y2="300.5" stroke="#2a2a2a" stroke-width="1" />
<text x="66.4" y="304.6" font-family="Liberation Sans" font-size="12" fill="#333333" text-anchor="middle" >7.62</text>
<text x="113.8" y="304.3" font-family="Liberation Sans" font-size="12" fill="#333333" text-anchor="middle" >10.16</text>
<line x1="220.5" y1="116" x2="220.5" y2="199.5" stroke="#2a2a2a" stroke-width="1" />
<line x1="283.5" y1="116" x2="283.5" y2="199.5" stroke="#2a2a2a" stroke-width="1" />
<line x1="221" y1="119.2" x2="240" y2="119.2" stroke="#2a2a2a" stroke-width="1" />
<line x1="267" y1="119.2" x2="283" y2="119.2" stroke="#2a2a2a" stroke-width="1" />
<text x="253.6" y="122.8" font-family="Liberation Sans" font-size="12" fill="#333333" text-anchor="middle" >11.0</text>
<line x1="220.5" y1="146.5" x2="283.5" y2="146.5" stroke="#2a2a2a" stroke-width="1.1" />
<line x1="251.5" y1="140" x2="251.5" y2="192" stroke="#2a2a2a" stroke-width="1" />
<line x1="251.5" y1="194.5" x2="251.5" y2="197.5" stroke="#2a2a2a" stroke-width="1" />
<line x1="248.5" y1="196" x2="248.5" y2="279" stroke="#a8a8a8" stroke-width="1.4" />
<line x1="254.5" y1="196" x2="254.5" y2="279" stroke="#2a2a2a" stroke-width="1" />
<line x1="251.5" y1="203" x2="251.5" y2="279" stroke="#2a2a2a" stroke-width="1" />
<path d="M220.6,199.5 H246.4 L249.1,203.2 H254.1 L256.4,199.5 H283.5" stroke="#2a2a2a" stroke-width="1.1" fill="none" />
<path d="M220.6,199.5 V202.2 Q220.6,203.2 221.6,203.2 H222.9 Q223.9,203.2 223.9,202.2 V199.5" stroke="#2a2a2a" stroke-width="1" fill="none" />
<path d="M280.5,199.5 V202.2 Q280.5,203.2 281.5,203.2 H282.6 Q283.6,203.2 283.6,202.2 V199.5" stroke="#2a2a2a" stroke-width="1" fill="none" />
<line x1="228" y1="196" x2="228" y2="222" stroke="#a8a8a8" stroke-width="1.4" stroke-dasharray="4 2"/>
<path d="M226.5,199.5 V221.1 Q226.5,222.6 228.0,222.6 H228.0 Q229.5,222.6 229.5,221.1 V199.5" stroke="#2a2a2a" stroke-width="1" fill="none" />
<line x1="226.5" y1="196.4" x2="226.5" y2="199.5" stroke="#a8a8a8" stroke-width="1" />
<line x1="229.5" y1="196.4" x2="229.5" y2="199.5" stroke="#a8a8a8" stroke-width="1" />
<line x1="228" y1="222.6" x2="228" y2="296" stroke="#a8a8a8" stroke-width="1.4" />
<line x1="276.1" y1="196" x2="276.1" y2="222" stroke="#a8a8a8" stroke-width="1.4" stroke-dasharray="4 2"/>
<path d="M274.5,199.5 V220.8 Q274.5,222.3 276.0,222.3 H276.0 Q277.5,222.3 277.5,220.8 V199.5" stroke="#2a2a2a" stroke-width="1" fill="none" />
<line x1="274.5" y1="196.4" x2="274.5" y2="199.5" stroke="#a8a8a8" stroke-width="1" />
<line x1="277.5" y1="196.4" x2="277.5" y2="199.5" stroke="#a8a8a8" stroke-width="1" />
<line x1="274.5" y1="222.3" x2="274.5" y2="276" stroke="#2a2a2a" stroke-width="1" />
<line x1="277.5" y1="222.3" x2="277.5" y2="276" stroke="#a8a8a8" stroke-width="1.4" />
<line x1="276.5" y1="276" x2="276.5" y2="296" stroke="#2a2a2a" stroke-width="1" />
<line x1="263" y1="250.5" x2="274" y2="250.5" stroke="#a8a8a8" stroke-width="1.3" />
<line x1="279" y1="250.5" x2="302" y2="250.5" stroke="#a8a8a8" stroke-width="1.3" />
<text x="293" y="249.2" font-family="Liberation Sans" font-size="12" fill="#333333" text-anchor="middle" >0.3</text>
<line x1="231" y1="271.5" x2="248" y2="271.5" stroke="#2a2a2a" stroke-width="1" />
<line x1="255" y1="271.5" x2="265.5" y2="271.5" stroke="#2a2a2a" stroke-width="1" />
<text x="237.6" y="268.2" font-family="Liberation Sans" font-size="12" fill="#333333" text-anchor="middle" >1.0</text>
<line x1="228" y1="292.5" x2="240" y2="292.5" stroke="#2a2a2a" stroke-width="1" />
<line x1="263" y1="292.5" x2="276" y2="292.5" stroke="#2a2a2a" stroke-width="1" />
<text x="251" y="296.5" font-family="Liberation Sans" font-size="12" fill="#333333" text-anchor="middle" >7.62</text>
<line x1="376.5" y1="199.5" x2="376.5" y2="269.5" stroke="#5a5a5a" stroke-width="1" />
<line x1="390.5" y1="199.5" x2="390.5" y2="269.5" stroke="#5a5a5a" stroke-width="1" />
<line x1="404.5" y1="199.5" x2="404.5" y2="269.5" stroke="#5a5a5a" stroke-width="1" />
<line x1="418.5" y1="199.5" x2="418.5" y2="269.5" stroke="#5a5a5a" stroke-width="1" />
<line x1="432.5" y1="199.5" x2="432.5" y2="269.5" stroke="#5a5a5a" stroke-width="1" />
<line x1="446.5" y1="199.5" x2="446.5" y2="269.5" stroke="#5a5a5a" stroke-width="1" />
<line x1="460.5" y1="199.5" x2="460.5" y2="269.5" stroke="#5a5a5a" stroke-width="1" />
<line x1="474.5" y1="199.5" x2="474.5" y2="269.5" stroke="#5a5a5a" stroke-width="1" />
<line x1="362.5" y1="213.5" x2="488.5" y2="213.5" stroke="#5a5a5a" stroke-width="1" />
<line x1="362.5" y1="227.5" x2="488.5" y2="227.5" stroke="#5a5a5a" stroke-width="1" />
<line x1="362.5" y1="241.5" x2="488.5" y2="241.5" stroke="#5a5a5a" stroke-width="1" />
<line x1="362.5" y1="255.5" x2="488.5" y2="255.5" stroke="#5a5a5a" stroke-width="1" />
<rect x="362.5" y="199.5" width="126.00" height="70.00" stroke="#9a9a9a" stroke-width="1.4" fill="none"/>
<line x1="376.5" y1="181" x2="376.5" y2="270" stroke="#b0b0b0" stroke-width="1.6" />
<line x1="390.5" y1="181" x2="390.5" y2="199.5" stroke="#2a2a2a" stroke-width="1" />
<line x1="369.5" y1="205.5" x2="378" y2="205.5" stroke="#2a2a2a" stroke-width="1.1" />
<line x1="387.7" y1="205.5" x2="419.7" y2="205.5" stroke="#2a2a2a" stroke-width="1.1" />
<line x1="431" y1="205.5" x2="463.3" y2="205.5" stroke="#2a2a2a" stroke-width="1.1" />
<line x1="468.7" y1="205.5" x2="481.5" y2="205.5" stroke="#2a2a2a" stroke-width="1.1" />
<line x1="379.455" y1="205.5" x2="380.425" y2="205.5" stroke="#2a2a2a" stroke-width="1.1" />
<line x1="381.88" y1="205.5" x2="384.305" y2="205.5" stroke="#2a2a2a" stroke-width="1.1" />
<line x1="385.76" y1="205.5" x2="386.73" y2="205.5" stroke="#2a2a2a" stroke-width="1.1" />
<line x1="421.395" y1="205.5" x2="422.525" y2="205.5" stroke="#2a2a2a" stroke-width="1.1" />
<line x1="424.21999999999997" y1="205.5" x2="427.045" y2="205.5" stroke="#2a2a2a" stroke-width="1.1" />
<line x1="428.74" y1="205.5" x2="429.87" y2="205.5" stroke="#2a2a2a" stroke-width="1.1" />
<line x1="464.11" y1="205.5" x2="464.65" y2="205.5" stroke="#2a2a2a" stroke-width="1.1" />
<line x1="465.46" y1="205.5" x2="466.81" y2="205.5" stroke="#2a2a2a" stroke-width="1.1" />
<line x1="467.62" y1="205.5" x2="468.15999999999997" y2="205.5" stroke="#2a2a2a" stroke-width="1.1" />
<line x1="369.5" y1="264.0" x2="378.2" y2="264.0" stroke="#2a2a2a" stroke-width="1.1" />
<line x1="386" y1="264.0" x2="419.7" y2="264.0" stroke="#2a2a2a" stroke-width="1.1" />
<line x1="432" y1="264.0" x2="463" y2="264.0" stroke="#2a2a2a" stroke-width="1.1" />
<line x1="473" y1="264.0" x2="481.5" y2="264.0" stroke="#2a2a2a" stroke-width="1.1" />
<line x1="379.37" y1="264.0" x2="380.15" y2="264.0" stroke="#2a2a2a" stroke-width="1.1" />
<line x1="381.32" y1="264.0" x2="383.27" y2="264.0" stroke="#2a2a2a" stroke-width="1.1" />
<line x1="384.44" y1="264.0" x2="385.22" y2="264.0" stroke="#2a2a2a" stroke-width="1.1" />
<line x1="421.545" y1="264.0" x2="422.775" y2="264.0" stroke="#2a2a2a" stroke-width="1.1" />
<line x1="424.62" y1="264.0" x2="427.695" y2="264.0" stroke="#2a2a2a" stroke-width="1.1" />
<line x1="429.54" y1="264.0" x2="430.77" y2="264.0" stroke="#2a2a2a" stroke-width="1.1" />
<line x1="464.5" y1="264.0" x2="465.5" y2="264.0" stroke="#2a2a2a" stroke-width="1.1" />
<line x1="467.0" y1="264.0" x2="469.5" y2="264.0" stroke="#2a2a2a" stroke-width="1.1" />
<line x1="471.0" y1="264.0" x2="472.0" y2="264.0" stroke="#2a2a2a" stroke-width="1.1" />
<line x1="369.5" y1="205.5" x2="369.5" y2="228.6" stroke="#2a2a2a" stroke-width="1.1" />
<line x1="481.5" y1="205.5" x2="481.5" y2="228.6" stroke="#2a2a2a" stroke-width="1.1" />
<line x1="369.5" y1="239.6" x2="369.5" y2="264.0" stroke="#2a2a2a" stroke-width="1.1" />
<line x1="481.5" y1="239.6" x2="481.5" y2="264.0" stroke="#2a2a2a" stroke-width="1.1" />
<line x1="369.5" y1="230.25" x2="369.5" y2="231.35" stroke="#2a2a2a" stroke-width="1.1" />
<line x1="369.5" y1="233.0" x2="369.5" y2="235.75" stroke="#2a2a2a" stroke-width="1.1" />
<line x1="369.5" y1="237.4" x2="369.5" y2="238.5" stroke="#2a2a2a" stroke-width="1.1" />
<line x1="481.5" y1="230.25" x2="481.5" y2="231.35" stroke="#2a2a2a" stroke-width="1.1" />
<line x1="481.5" y1="233.0" x2="481.5" y2="235.75" stroke="#2a2a2a" stroke-width="1.1" />
<line x1="481.5" y1="237.4" x2="481.5" y2="238.5" stroke="#2a2a2a" stroke-width="1.1" />
<circle cx="376.5" cy="255.5" r="4.9" stroke="#2a2a2a" stroke-width="1.2" fill="none"/>
<circle cx="418.5" cy="255.5" r="4.9" stroke="#2a2a2a" stroke-width="1.2" fill="none"/>
<circle cx="474.5" cy="255.5" r="4.9" stroke="#2a2a2a" stroke-width="1.2" fill="none"/>
<circle cx="474.5" cy="213.5" r="4.9" stroke="#2a2a2a" stroke-width="1.2" fill="none"/>
<line x1="364" y1="183.8" x2="420" y2="183.8" stroke="#a8a8a8" stroke-width="1.6" />
<text x="399.5 404.2 410.5 416.2" y="182.2" font-family="Liberation Sans" font-size="11.5" fill="#333333" text-anchor="middle">2.54</text>
<line x1="346.5" y1="201.3" x2="346.5" y2="234" stroke="#2a2a2a" stroke-width="1" />
<line x1="343" y1="213.5" x2="362" y2="213.5" stroke="#2a2a2a" stroke-width="1" />
<line x1="343" y1="227.5" x2="362" y2="227.5" stroke="#2a2a2a" stroke-width="1" />
<text x="341.3 346.2 352 357.4" y="247.3" font-family="Liberation Sans" font-size="11.5" fill="#333333" text-anchor="middle">2.54</text>
<text x="454.7 468.5 476.4 480.7 487.8" y="181.2" font-family="Liberation Sans" font-size="11.5" fill="#333333" text-anchor="middle">4&#981;1.2</text>
<line x1="458" y1="178" x2="462.8" y2="178" stroke="#333333" stroke-width="1.1" />
<line x1="450" y1="182.6" x2="490.5" y2="182.6" stroke="#555" stroke-width="1" />
<line x1="490.5" y1="182.8" x2="479.5" y2="205.5" stroke="#2a2a2a" stroke-width="1" />
<polygon points="477.7,208 477.8,202.8 481.8,205" fill="#1a1a1a"/>
<circle cx="438.7" cy="360.5" r="3.9" stroke="#2a2a2a" stroke-width="1" fill="none"/>
<circle cx="438.7" cy="421.4" r="3.9" stroke="#2a2a2a" stroke-width="1" fill="none"/>
<circle cx="350.9" cy="421.4" r="3.9" stroke="#2a2a2a" stroke-width="1" fill="none"/>
<circle cx="380.4" cy="421.4" r="3.9" stroke="#2a2a2a" stroke-width="1" fill="none"/>
<line x1="438.7" y1="364.4" x2="438.7" y2="380.5" stroke="#555" stroke-width="1.2" />
<rect x="435" y="380.5" width="7.6" height="21.5" stroke="#333" stroke-width="1" fill="none"/>
<line x1="438.7" y1="402" x2="438.7" y2="417.5" stroke="#555" stroke-width="1.2" />
<text x="426" y="364.9" font-family="Liberation Sans" font-size="11.5" fill="#333333" text-anchor="middle" >16</text>
<line x1="425.5" y1="377" x2="432" y2="377" stroke="#222" stroke-width="1.2" />
<line x1="426.3" y1="407.5" x2="432.2" y2="407.5" stroke="#222" stroke-width="1.1" />
<line x1="429.25" y1="404.5" x2="429.25" y2="410.5" stroke="#222" stroke-width="1.1" />
<text x="429.2" y="425.4" font-family="Liberation Sans" font-size="11.5" fill="#333333" text-anchor="middle" >1</text>
<text x="341.3" y="425.5" font-family="Liberation Sans" font-size="11.5" fill="#333333" text-anchor="middle" >8</text>
<text x="370.8" y="425.5" font-family="Liberation Sans" font-size="11.5" fill="#333333" text-anchor="middle" >5</text>
<path d="M344.5,401.4 L380.4,405.5 V417.5" stroke="#2a2a2a" stroke-width="1" fill="none" />
<line x1="350.9" y1="410" x2="350.9" y2="417.5" stroke="#555" stroke-width="1.2" />
<polygon points="350.9,407 348.5,410.8 353.3,410.8" fill="#1a1a1a"/>
<path d="M342 438h1v1h-1zM341 439h1v1h-1zM341 440h1v1h-1zM340 441h1v1h-1zM340 442h1v1h-1zM340 443h1v1h-1zM340 444h1v1h-1zM340 445h1v1h-1zM341 446h1v1h-1zM341 447h1v1h-1zM342 448h1v1h-1zM344 438h9v1h-9zM348 439h1v1h-1zM348 440h1v1h-1zM348 441h1v1h-1zM343 442h11v1h-11zM347 443h1v1h-1zM349 443h1v1h-1zM347 444h1v1h-1zM349 444h1v1h-1zM346 445h1v1h-1zM349 445h1v1h-1zM346 446h1v1h-1zM349 446h1v1h-1zM353 446h1v1h-1zM345 447h1v1h-1zM349 447h1v1h-1zM353 447h1v1h-1zM343 448h2v1h-2zM350 448h4v1h-4zM356 438h5v1h-5zM363 438h1v1h-1zM356 439h1v1h-1zM363 439h1v1h-1zM356 440h1v1h-1zM363 440h1v1h-1zM356 441h5v1h-5zM362 441h4v1h-4zM356 442h1v1h-1zM358 442h1v1h-1zM363 442h1v1h-1zM365 442h1v1h-1zM356 443h1v1h-1zM358 443h3v1h-3zM363 443h1v1h-1zM365 443h1v1h-1zM356 444h1v1h-1zM358 444h1v1h-1zM360 444h1v1h-1zM363 444h1v1h-1zM365 444h1v1h-1zM356 445h1v1h-1zM358 445h1v1h-1zM360 445h1v1h-1zM363 445h1v1h-1zM365 445h1v1h-1zM356 446h1v1h-1zM358 446h1v1h-1zM360 446h1v1h-1zM362 446h1v1h-1zM365 446h1v1h-1zM355 447h1v1h-1zM357 447h1v1h-1zM359 447h1v1h-1zM361 447h1v1h-1zM365 447h1v1h-1zM356 448h1v1h-1zM360 448h1v1h-1zM364 448h2v1h-2zM372 438h1v1h-1zM376 438h1v1h-1zM367 439h4v1h-4zM373 439h1v1h-1zM375 439h1v1h-1zM369 440h1v1h-1zM371 440h7v1h-7zM369 441h1v1h-1zM372 441h1v1h-1zM375 441h1v1h-1zM368 442h3v1h-3zM372 442h1v1h-1zM375 442h1v1h-1zM377 442h1v1h-1zM367 443h2v1h-2zM370 443h2v1h-2zM373 443h2v1h-2zM377 443h1v1h-1zM368 444h1v1h-1zM370 444h7v1h-7zM368 445h1v1h-1zM370 445h1v1h-1zM373 445h1v1h-1zM376 445h1v1h-1zM368 446h3v1h-3zM372 446h1v1h-1zM375 446h1v1h-1zM368 447h1v1h-1zM370 447h2v1h-2zM373 447h2v1h-2zM376 447h1v1h-1zM370 448h3v1h-3zM374 448h2v1h-2zM377 448h1v1h-1zM382 438h1v1h-1zM386 438h2v1h-2zM379 439h1v1h-1zM382 439h1v1h-1zM386 439h1v1h-1zM388 439h1v1h-1zM380 440h1v1h-1zM382 440h1v1h-1zM386 440h1v1h-1zM380 441h1v1h-1zM382 441h8v1h-8zM382 442h1v1h-1zM386 442h1v1h-1zM382 443h1v1h-1zM386 443h1v1h-1zM381 444h2v1h-2zM385 444h1v1h-1zM387 444h1v1h-1zM379 445h2v1h-2zM382 445h1v1h-1zM385 445h1v1h-1zM387 445h1v1h-1zM382 446h1v1h-1zM384 446h1v1h-1zM388 446h1v1h-1zM382 447h1v1h-1zM384 447h1v1h-1zM388 447h1v1h-1zM382 448h2v1h-2zM389 448h1v1h-1zM396 438h1v1h-1zM391 439h11v1h-11zM396 440h1v1h-1zM395 441h1v1h-1zM397 441h1v1h-1zM393 442h3v1h-3zM398 442h2v1h-2zM391 443h2v1h-2zM396 443h1v1h-1zM400 443h2v1h-2zM394 445h1v1h-1zM396 445h1v1h-1zM400 445h1v1h-1zM392 446h1v1h-1zM394 446h1v1h-1zM397 446h1v1h-1zM399 446h1v1h-1zM401 446h1v1h-1zM392 447h1v1h-1zM394 447h1v1h-1zM399 447h1v1h-1zM401 447h1v1h-1zM391 448h1v1h-1zM395 448h5v1h-5zM403 438h1v1h-1zM404 439h1v1h-1zM404 440h1v1h-1zM405 441h1v1h-1zM405 442h1v1h-1zM405 443h1v1h-1zM405 444h1v1h-1zM405 445h1v1h-1zM404 446h1v1h-1zM404 447h1v1h-1zM403 448h1v1h-1z" fill="#111"/>
<polygon points="38,106.5 43.5,104.8 43.5,108.2" fill="#1a1a1a"/>
<polygon points="147,106.5 141.5,104.8 141.5,108.2" fill="#1a1a1a"/>
<polygon points="175.5,133.5 173.8,139.0 177.2,139.0" fill="#1a1a1a"/>
<polygon points="175.5,187 173.8,181.5 177.2,181.5" fill="#1a1a1a"/>
<polygon points="194.2,133.5 192.5,139.0 195.89999999999998,139.0" fill="#1a1a1a"/>
<polygon points="194.2,190.3 192.5,184.8 195.89999999999998,184.8" fill="#1a1a1a"/>
<polygon points="194.2,209.8 192.5,215.3 195.89999999999998,215.3" fill="#1a1a1a"/>
<polygon points="41.6,258.3 36.1,256.6 36.1,260.0" fill="#1a1a1a"/>
<polygon points="47.2,258.3 52.7,256.6 52.7,260.0" fill="#1a1a1a"/>
<polygon points="106.4,238 100.9,236.3 100.9,239.7" fill="#1a1a1a"/>
<polygon points="112.2,238 117.7,236.3 117.7,239.7" fill="#1a1a1a"/>
<polygon points="144.5,238 139.0,236.3 139.0,239.7" fill="#1a1a1a"/>
<polygon points="147.5,238 153.0,236.3 153.0,239.7" fill="#1a1a1a"/>
<polygon points="137.6,258.3 132.1,256.6 132.1,260.0" fill="#1a1a1a"/>
<polygon points="142.4,258.3 147.9,256.6 147.9,260.0" fill="#1a1a1a"/>
<polygon points="140.4,268.2 134.9,266.5 134.9,269.9" fill="#1a1a1a"/>
<polygon points="147.5,268.2 153.0,266.5 153.0,269.9" fill="#1a1a1a"/>
<polygon points="109.3,278.5 114.8,276.8 114.8,280.2" fill="#1a1a1a"/>
<polygon points="147.5,278.5 142.0,276.8 142.0,280.2" fill="#1a1a1a"/>
<polygon points="44.5,300.5 50.0,298.8 50.0,302.2" fill="#1a1a1a"/>
<polygon points="86.3,300.5 80.8,298.8 80.8,302.2" fill="#1a1a1a"/>
<polygon points="86.3,300.5 91.8,298.8 91.8,302.2" fill="#1a1a1a"/>
<polygon points="140.4,300.5 134.9,298.8 134.9,302.2" fill="#1a1a1a"/>
<polygon points="220.6,119.2 226.1,117.5 226.1,120.9" fill="#1a1a1a"/>
<polygon points="283.5,119.2 278.0,117.5 278.0,120.9" fill="#1a1a1a"/>
<polygon points="274.3,250.5 268.8,248.8 268.8,252.2" fill="#1a1a1a"/>
<polygon points="278.3,250.5 283.8,248.8 283.8,252.2" fill="#1a1a1a"/>
<polygon points="248.5,271.5 243.0,269.8 243.0,273.2" fill="#1a1a1a"/>
<polygon points="254.5,271.5 260.0,269.8 260.0,273.2" fill="#1a1a1a"/>
<polygon points="228,292.5 233.5,290.8 233.5,294.2" fill="#1a1a1a"/>
<polygon points="276.5,292.5 271.0,290.8 271.0,294.2" fill="#1a1a1a"/>
<polygon points="376,183.8 370.5,182.10000000000002 370.5,185.5" fill="#1a1a1a"/>
<polygon points="390.5,183.8 396.0,182.10000000000002 396.0,185.5" fill="#1a1a1a"/>
<polygon points="346.5,213.5 344.8,208.0 348.2,208.0" fill="#1a1a1a"/>
<polygon points="346.5,227.5 344.8,233.0 348.2,233.0" fill="#1a1a1a"/>
</svg>
</body></html>
